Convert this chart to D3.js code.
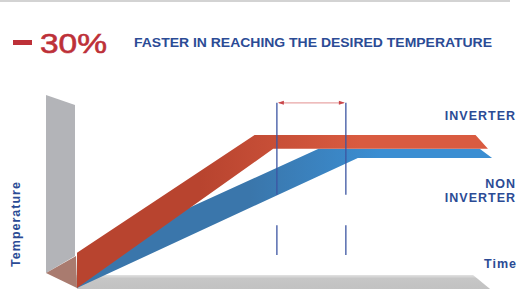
<!DOCTYPE html>
<html>
<head>
<meta charset="utf-8">
<script src="https://cdn.jsdelivr.net/npm/d3@7"></script>
<style>
body { margin: 0; background: #fff; }
text { font-family: "Liberation Sans", Arial, sans-serif; }
</style>
</head>
<body>
<svg width="519" height="289"></svg>
<script>
// data (time 0-100, temperature 0-100)
var headline = "30%";
var subtitle = "FASTER IN REACHING THE DESIRED TEMPERATURE";
var axisLabels = ["Temperature", "Time"];
var seriesLabels = [["INVERTER"], ["NON", "INVERTER"]];

// band edges: [time, temperature]
var inverterUpper = [[0, 23], [43, 100], [96.5, 100]];
var inverterLower = [[0, 0], [47.5, 91], [99.5, 91]];
var nonInverterUpper = [[0, 19], [58.5, 91], [97.5, 91]];
var nonInverterLower = [[0, 0], [68, 85], [100.5, 85]];

// times where each unit reaches set point
var markerTimes = [48.4, 65.1];

var svg = d3.select("svg");

var x = d3.scaleLinear().domain([0, 100]).range([77, 490]),
    y = d3.scaleLinear().domain([0, 100]).range([288, 135]);

var defs = svg.append("defs");

function grad(id, x1, x2, c1, c2) {
  var g = defs.append("linearGradient").attr("id", id)
    .attr("gradientUnits", "userSpaceOnUse")
    .attr("x1", x1).attr("x2", x2).attr("y1", 0).attr("y2", 0);
  g.append("stop").attr("offset", 0).attr("stop-color", c1);
  g.append("stop").attr("offset", 1).attr("stop-color", c2);
}
grad("redGrad", 200, 360, "#b8442f", "#d95b40");
grad("blueGrad", 250, 380, "#3a76ab", "#3b8ed2");

var floorGrad = defs.append("linearGradient").attr("id", "floorGrad")
  .attr("x1", 0).attr("x2", 0).attr("y1", 0).attr("y2", 1);
floorGrad.append("stop").attr("offset", 0).attr("stop-color", "#e2e2e2");
floorGrad.append("stop").attr("offset", 0.25).attr("stop-color", "#c6c6c6");
floorGrad.append("stop").attr("offset", 1).attr("stop-color", "#c2c2c2");

// top rule
svg.append("rect").attr("x", 0).attr("y", 0).attr("width", 510).attr("height", 2)
  .attr("fill", "#d3d3d3");

// headline
svg.append("rect").attr("x", 13).attr("y", 40).attr("width", 19).attr("height", 5)
  .attr("fill", "#bd3038");
svg.append("text").attr("x", 40).attr("y", 53)
  .attr("font-size", 28).attr("fill", "#bd3038")
  .attr("stroke", "#bd3038").attr("stroke-width", 0.6)
  .attr("textLength", 67).attr("lengthAdjust", "spacingAndGlyphs")
  .text(headline);
svg.append("text").attr("x", 134).attr("y", 47)
  .attr("font-size", 13.5).attr("font-weight", "bold").attr("fill", "#2b4b95")
  .attr("textLength", 358).attr("lengthAdjust", "spacingAndGlyphs")
  .text(subtitle);

// 3d axes
var x0 = x(0), yb = y(0);
var pts = function(a) { return a.map(function(p) { return p.join(","); }).join(" "); };

svg.append("polygon")
  .attr("points", pts([[x0 - 31, 95], [x0 - 2, 105], [x0 - 2, yb - 32], [x0 - 31, yb - 15]]))
  .attr("fill", "#b3b4b8");
svg.append("polygon")
  .attr("points", pts([[x0 - 2, yb - 13], [x(95.9), yb - 13], [x(95.9) + 17, yb + 1], [x0, yb + 1]]))
  .attr("fill", "url(#floorGrad)");
svg.append("polygon")
  .attr("points", pts([[x0 - 31, yb - 15], [x0 - 1, yb - 32], [x0, yb]]))
  .attr("fill", "#a97b6f");

// bands
var line = d3.line().x(function(d) { return x(d[0]); }).y(function(d) { return y(d[1]); });
function band(upper, lower) {
  return line(upper.concat(lower.slice().reverse())) + "Z";
}

svg.append("path").attr("d", band(nonInverterUpper, nonInverterLower))
  .attr("fill", "url(#blueGrad)");
svg.append("path").attr("d", band(inverterUpper, inverterLower))
  .attr("fill", "url(#redGrad)");

// marker lines
markerTimes.forEach(function(t) {
  [[121, 61], [41, 21.5]].forEach(function(seg) {
    svg.append("line")
      .attr("x1", x(t)).attr("x2", x(t))
      .attr("y1", y(seg[0])).attr("y2", y(seg[1]))
      .attr("stroke", "#3c55a2").attr("stroke-width", 1.3);
  });
});

// arrow between markers
var ay = y(121);
svg.append("line")
  .attr("x1", x(markerTimes[0]) + 2).attr("x2", x(markerTimes[1]) - 2)
  .attr("y1", ay).attr("y2", ay)
  .attr("stroke", "#e8a6a6").attr("stroke-width", 1.3);
[[x(markerTimes[0]) + 1, 1], [x(markerTimes[1]) - 1, -1]].forEach(function(a) {
  svg.append("polygon")
    .attr("points", pts([[a[0], ay], [a[0] + a[1] * 6, ay - 2], [a[0] + a[1] * 6, ay + 2]]))
    .attr("fill", "#c9464a");
});

// labels
var lab = svg.append("g").attr("fill", "#2b4b95").attr("font-weight", "bold")
  .attr("font-size", 12.5).attr("letter-spacing", 1);

lab.append("text").attr("x", 516).attr("y", y(100) - 15)
  .attr("text-anchor", "end").text(seriesLabels[0][0]);
seriesLabels[1].forEach(function(s, i) {
  lab.append("text").attr("x", 516).attr("y", y(85) + 30 + i * 14)
    .attr("text-anchor", "end").text(s);
});

lab.append("text").attr("x", 517).attr("y", yb - 20)
  .attr("text-anchor", "end").text(axisLabels[1]);
lab.append("text")
  .attr("transform", "translate(20," + (yb - 64) + ") rotate(-90)")
  .attr("text-anchor", "middle").text(axisLabels[0]);
</script>
</body>
</html>
